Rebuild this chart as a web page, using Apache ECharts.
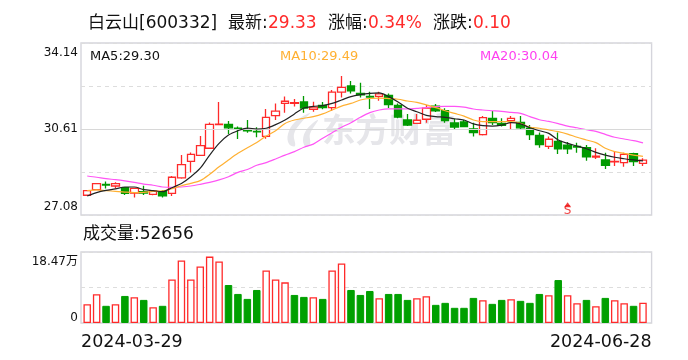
<!DOCTYPE html>
<html><head><meta charset="utf-8">
<style>html,body{margin:0;padding:0;background:#fff}#c{width:688px;height:360px}</style>
<script src="https://cdn.jsdelivr.net/npm/echarts@6/dist/echarts.min.js"></script>
</head><body><div id="c"></div>
<script>
var dates=["2024-03-29","2024-04-01","2024-04-02","2024-04-03","2024-04-08","2024-04-09","2024-04-10","2024-04-11","2024-04-12","2024-04-15","2024-04-16","2024-04-17","2024-04-18","2024-04-19","2024-04-22","2024-04-23","2024-04-24","2024-04-25","2024-04-26","2024-04-29","2024-04-30","2024-05-06","2024-05-07","2024-05-08","2024-05-09","2024-05-10","2024-05-13","2024-05-14","2024-05-15","2024-05-16","2024-05-17","2024-05-20","2024-05-21","2024-05-22","2024-05-23","2024-05-24","2024-05-27","2024-05-28","2024-05-29","2024-05-30","2024-05-31","2024-06-03","2024-06-04","2024-06-05","2024-06-06","2024-06-07","2024-06-11","2024-06-12","2024-06-13","2024-06-14","2024-06-17","2024-06-18","2024-06-19","2024-06-20","2024-06-21","2024-06-24","2024-06-25","2024-06-26","2024-06-27","2024-06-28"];
var opens=[27.89,28.12,28.34,28.27,28.20,27.98,28.04,27.93,28.04,27.97,28.60,29.28,29.53,29.82,30.79,30.80,30.65,30.55,30.51,30.31,31.16,31.66,31.66,31.72,31.42,31.58,31.49,32.12,32.38,32.07,31.95,31.95,31.99,31.58,30.98,30.84,31.01,31.55,31.36,30.86,30.90,30.61,30.38,31.05,30.84,30.95,30.88,30.64,30.35,29.90,30.10,29.95,29.90,29.84,29.46,29.34,29.26,29.23,29.60,29.20];
var closes=[28.08,28.37,28.31,28.37,27.97,28.17,27.98,28.07,27.87,28.63,29.15,29.57,29.93,30.80,30.81,30.66,30.62,30.53,30.49,31.09,31.34,31.75,31.69,31.47,31.51,31.49,32.12,32.32,32.18,32.01,31.92,32.05,31.61,31.10,30.77,30.97,31.47,31.35,30.95,30.69,30.71,30.46,31.08,30.87,30.76,31.05,30.66,30.38,29.97,30.19,29.80,29.80,29.87,29.47,29.50,29.12,29.28,29.57,29.27,29.33];
var lows=[27.86,28.11,28.17,28.17,27.90,27.80,27.90,27.89,27.80,27.86,28.57,28.82,29.52,29.80,30.77,30.40,30.20,30.46,30.27,30.21,30.98,31.28,31.53,31.28,31.32,31.42,31.35,31.90,32.07,31.90,31.43,31.77,31.47,31.05,30.73,30.83,30.87,31.31,30.87,30.61,30.69,30.30,30.34,30.77,30.71,30.61,30.60,30.16,29.84,29.79,29.58,29.58,29.64,29.31,29.38,28.97,29.09,29.06,29.09,29.09];
var highs=[28.11,28.39,28.45,28.42,28.23,28.20,28.28,28.11,28.11,28.68,29.54,29.65,30.32,30.88,31.72,30.94,30.71,30.98,30.68,31.43,31.66,31.94,31.84,31.96,31.73,31.72,32.21,32.79,32.58,32.51,32.14,32.14,32.07,31.66,31.23,31.23,31.60,31.64,31.46,31.03,30.98,30.87,31.14,31.35,31.05,31.14,31.14,30.77,30.47,30.30,30.47,30.08,30.05,29.95,29.82,29.64,29.71,29.64,29.64,29.41];
var ma5=[27.86,28.00,28.09,28.15,28.23,28.23,28.12,28.08,28.04,28.20,28.37,28.65,29.00,29.54,30.02,30.36,30.54,30.65,30.61,30.64,30.79,30.98,31.23,31.47,31.54,31.57,31.66,31.80,31.94,32.02,32.07,32.09,31.94,31.72,31.46,31.32,31.17,31.12,31.09,31.03,30.98,30.82,30.75,30.73,30.77,30.87,30.82,30.66,30.54,30.43,30.16,30.02,29.91,29.80,29.65,29.54,29.45,29.39,29.34,29.30];
var ma10=[28.08,28.11,28.08,28.05,28.02,28.00,28.01,28.05,28.07,28.16,28.28,28.38,28.49,28.75,29.06,29.34,29.61,29.84,30.06,30.32,30.54,30.84,30.98,31.05,31.12,31.23,31.39,31.55,31.66,31.80,31.87,31.88,31.86,31.83,31.76,31.70,31.60,31.49,31.36,31.25,31.14,30.98,30.91,30.91,30.91,30.91,30.84,30.68,30.64,30.57,30.50,30.40,30.27,30.16,30.05,29.82,29.68,29.61,29.54,29.49];
var ma20=[28.68,28.63,28.57,28.53,28.48,28.42,28.35,28.30,28.23,28.21,28.23,28.27,28.34,28.42,28.52,28.65,28.83,28.95,29.12,29.23,29.38,29.54,29.68,29.86,29.99,30.23,30.46,30.68,30.87,31.09,31.28,31.39,31.44,31.44,31.43,31.46,31.49,31.53,31.54,31.54,31.51,31.43,31.39,31.36,31.33,31.29,31.25,31.12,30.99,30.92,30.83,30.73,30.66,30.58,30.51,30.39,30.27,30.20,30.13,30.04];
var volumes=[4.90,7.47,4.47,4.90,7.04,6.70,6.01,4.12,4.47,11.34,16.24,11.34,14.69,17.27,15.98,9.88,7.56,6.27,8.59,13.66,11.34,10.57,7.30,6.79,6.70,6.27,13.66,15.46,8.59,7.30,8.33,6.44,7.56,7.56,6.01,6.44,6.96,4.72,5.24,3.95,3.95,6.53,5.93,4.98,6.01,6.18,5.76,5.24,7.56,7.22,11.17,7.22,5.15,6.01,4.38,6.53,5.93,5.15,4.47,5.27];
var volumeUp=[1,1,0,1,0,1,0,1,0,1,1,1,1,1,1,0,0,0,0,1,1,1,0,0,1,0,1,1,0,0,0,1,0,0,0,1,1,0,0,0,0,0,1,0,0,1,0,0,0,1,0,1,1,0,1,0,1,1,0,1];
var priceTicks=[27.08,28.845,30.61,32.375,34.14];
var priceLabels=[27.08,30.61,34.14];
var volumeTicks=[0,9.235,18.47];
var volumeLabels=[0,18.47];
var sellSignal=[[51,27.50]];

var RED='#ff2a2a',GREEN='#009a00',VGREEN='#00a000',GRID='#d5d5dc',DASH='#dddddd';
var FONT='"DejaVu Sans","Noto Sans CJK SC",sans-serif';
var L=81,W=570.6,DL=82.5,DW=565.2;
function head(text,left,top,color,size){return {text:text,left:left,top:top,padding:0,textStyle:{color:color,fontSize:size,fontWeight:'normal',fontFamily:FONT}};}
var chart=echarts.init(document.getElementById('c'),null,{renderer:'canvas'});
chart.setOption({
 animation:false,
 title:[
  head('白云山[600332]',88,15,'#111',17),
  head('最新:',228,15,'#111',17),
  head('29.33',268,15,RED,17),
  head('涨幅:',328,15,'#111',17),
  head('0.34%',368,15,RED,17),
  head('涨跌:',433,15,'#111',17),
  head('0.10',473,15,RED,17),
  head('MA5:29.30',90,50,'#111',13),
  head('MA10:29.49',280,50,'#ffb032',13),
  head('MA20:30.04',480,50,'#ff40f0',13),
  head('成交量:52656',83,226,'#111',17)
 ],
 grid:[
  {left:L,top:43,width:W,height:172,show:true,borderColor:GRID,borderWidth:1.4,backgroundColor:'transparent'},
  {left:DL,top:43,width:DW,height:172},
  {left:L,top:252,width:W,height:71,show:true,borderColor:GRID,borderWidth:1.4,backgroundColor:'transparent'},
  {left:DL,top:252,width:DW,height:71}
 ],
 xAxis:[
  {gridIndex:0,type:'category',data:[dates[0],dates[dates.length-1]],show:false,boundaryGap:false},
  {gridIndex:1,type:'category',data:dates,show:false,boundaryGap:true},
  {gridIndex:2,type:'category',data:[dates[0],dates[dates.length-1]],boundaryGap:false,
   axisLine:{show:false},axisTick:{show:false},splitLine:{show:false},
   axisLabel:{show:true,interval:0,color:'#111',fontSize:17.5,fontFamily:FONT,margin:11,alignMinLabel:'left',alignMaxLabel:'right'}},
  {gridIndex:3,type:'category',data:dates,show:false,boundaryGap:true}
 ],
 yAxis:[
  {gridIndex:0,type:'value',min:priceTicks[0],max:priceTicks[4],
   axisLine:{show:false},axisTick:{show:false,customValues:priceTicks},
   splitLine:{show:true,lineStyle:{color:DASH,type:[4,4],width:1}},
   axisLabel:{show:true,customValues:priceLabels,color:'#111',fontSize:12,fontFamily:FONT,margin:3,
    formatter:function(v){var s=v.toFixed(2);return v===priceLabels[2]?'{t|'+s+'}':v===priceLabels[0]?'{b|'+s+'}':'{m|'+s+'}';},
    rich:{t:{fontSize:12,fontFamily:FONT,color:'#111',padding:[20,0,0,0]},b:{fontSize:12,fontFamily:FONT,color:'#111',padding:[0,0,16,0]},m:{fontSize:12,fontFamily:FONT,color:'#111'}}}},
  {gridIndex:1,type:'value',min:priceTicks[0],max:priceTicks[4],show:false},
  {gridIndex:2,type:'value',min:volumeTicks[0],max:volumeTicks[2],
   axisLine:{show:false},axisTick:{show:false,customValues:volumeTicks},
   splitLine:{show:true,lineStyle:{color:DASH,type:[4,4],width:1}},
   axisLabel:{show:true,customValues:volumeLabels,color:'#111',fontSize:12,fontFamily:FONT,margin:3,
    formatter:function(v){return v===0?'{b|0}':'{t|'+v.toFixed(2)+'万}';},
    rich:{t:{fontSize:12,fontFamily:FONT,color:'#111',padding:[20,0,0,0]},b:{fontSize:12,fontFamily:FONT,color:'#111',padding:[0,0,10,0]}}}},
  {gridIndex:3,type:'value',min:volumeTicks[0],max:volumeTicks[2],show:false}
 ],
 graphic:[
  {type:'text',z:0,left:322,top:113,style:{text:'东方财富',fill:'#e6e6ea',font:'bold 33.5px "Noto Sans CJK SC"'}},
  {type:'polygon',z:0,shape:{smooth:0.4,points:[[310,113],[295,122],[288,134],[289,144],[295,146],[294,134],[300,124]]},style:{fill:'#e6e6ea'}},
  {type:'polygon',z:0,shape:{smooth:0.4,points:[[318,120],[307,129],[303,140],[306,147],[310,144],[310,134]]},style:{fill:'#e6e6ea'}}
 ],
 series:[
  {type:'line',xAxisIndex:0,yAxisIndex:0,data:[],z:1,silent:true,
   markLine:{silent:true,symbol:'none',label:{show:false},lineStyle:{color:'#d8d8d8',type:'solid',width:1},data:[{yAxis:priceLabels[1]}],animation:false}},
  {type:'candlestick',xAxisIndex:1,yAxisIndex:1,barWidth:8,
   data:dates.map(function(d,i){return [opens[i],closes[i],lows[i],highs[i]];}),
   itemStyle:{color:'#ffffff',color0:GREEN,borderColor:RED,borderColor0:GREEN,borderWidth:1.3},z:3},
  {type:'line',xAxisIndex:1,yAxisIndex:1,data:ma20,symbol:'none',smooth:0.3,lineStyle:{color:'#ff55f5',width:1.2},z:4},
  {type:'line',xAxisIndex:1,yAxisIndex:1,data:ma10,symbol:'none',smooth:0.3,lineStyle:{color:'#ffb032',width:1.2},z:5},
  {type:'line',xAxisIndex:1,yAxisIndex:1,data:ma5,symbol:'none',smooth:0.3,lineStyle:{color:'#222222',width:1.2},z:6},
  {type:'scatter',xAxisIndex:1,yAxisIndex:1,data:sellSignal,symbol:'triangle',symbolSize:[7,5],itemStyle:{color:'#ee1111'},z:7,
   label:{show:true,position:'bottom',distance:-2,formatter:'S',color:'#ee1111',fontSize:12,fontFamily:FONT}},
  {type:'bar',xAxisIndex:3,yAxisIndex:3,barWidth:7.5,z:3,
   data:volumes.map(function(v,i){return {value:v,itemStyle:volumeUp[i]?{color:'#ffffff',borderColor:RED,borderWidth:1.3}:{color:VGREEN,borderColor:VGREEN,borderWidth:1}};})}
 ]
});
</script></body></html>
